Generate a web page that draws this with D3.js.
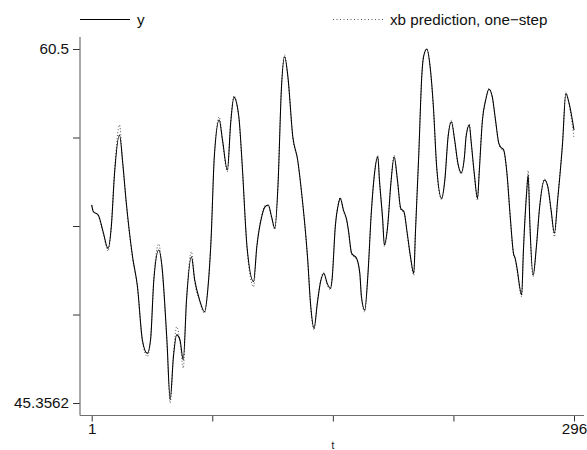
<!DOCTYPE html>
<html>
<head>
<meta charset="utf-8">
<script src="https://cdn.jsdelivr.net/npm/d3@7"></script>
<style>
  html, body { margin: 0; padding: 0; background: #fff; }
  svg { display: block; font-family: "Liberation Sans", Arial, Helvetica, sans-serif; }
</style>
</head>
<body>
<svg id="chart" width="587" height="450"></svg>
<script>
// ---- data ----
const tVals = [1,2,5,8,11,13,15,18,20,22,26,29,32,35,37,39,42,44,47,49,51,53,55,57,59,62,64,67,70,72,74,76,79,81,84,86,88,91,93,96,100,102,105,107,109,111,113,115,117,119,121,124,127,129,133,135,137,139,141,143,145,147,148,150,152,153,155,157,158,160,163,165,166,168,170,172,174,176,177,179,180,182,184,186,188,190,192,194,196,198,199,201,203,204,206,208,210,212,215,217,219,221,223,225,227,229,230,232,233,235,237,238,240,242,244,246,248,250,251,253,255,257,259,260,261,264,265,267,268,269,271,273,275,278,280,282,284,286,289,291,293,296];

const yVals = [53.83,53.54,53.40,52.68,51.97,52.90,55.20,56.82,55.62,54.04,51.61,50.33,48.05,47.48,48.05,50.62,51.90,51.19,48.05,45.50,47.34,48.27,48.05,47.20,49.76,51.61,50.62,49.76,49.26,50.19,52.33,55.89,57.46,56.61,55.32,57.32,58.43,57.60,55.61,52.04,50.55,52.04,53.33,53.75,53.83,53.33,52.83,54.75,58.75,60.17,59.32,56.75,55.75,54.61,51.61,49.48,48.55,49.62,50.55,50.90,50.48,50.26,50.62,52.90,53.90,54.11,53.61,53.18,52.76,51.76,51.55,50.90,49.90,49.33,50.90,53.47,55.18,55.89,54.90,53.18,52.12,52.90,54.75,55.89,54.90,53.69,53.54,52.62,51.61,50.90,52.62,55.89,59.46,60.17,60.50,59.74,58.03,55.47,54.11,54.90,56.75,57.39,56.61,55.61,55.21,55.89,56.75,57.25,56.61,55.18,54.11,55.18,57.46,58.32,58.78,58.46,57.46,56.47,56.32,56.18,55.18,53.33,51.76,51.55,51.19,49.98,51.76,54.33,55.11,53.04,50.83,52.04,53.75,54.90,54.61,53.61,52.62,54.04,56.47,58.60,58.18,57.03];

const predVals = [53.80,53.58,53.36,52.62,51.85,52.95,55.30,57.25,55.55,53.98,51.55,50.30,48.00,47.35,48.10,50.70,52.16,51.10,47.95,45.3562,47.45,48.62,47.98,46.85,49.80,51.83,50.55,49.70,49.20,50.25,52.40,55.95,57.60,56.55,55.25,57.38,58.50,57.55,55.55,51.98,50.33,52.10,53.38,53.80,53.80,53.28,52.78,54.82,58.80,60.25,59.28,56.70,55.70,54.55,51.55,49.40,48.48,49.68,50.60,50.95,50.42,50.20,50.68,52.95,53.95,54.15,53.55,53.12,52.70,51.70,51.50,50.85,49.85,49.25,50.95,53.52,55.22,55.95,54.85,53.12,52.05,52.95,54.80,55.95,54.85,53.62,53.50,52.55,51.55,50.82,52.68,55.95,59.50,60.22,60.50,59.70,57.98,55.40,54.05,54.95,56.80,57.45,56.55,55.55,55.15,55.95,56.80,57.30,56.55,55.12,54.02,55.25,57.50,58.36,58.82,58.42,57.40,56.42,56.25,56.12,55.12,53.27,51.70,51.48,51.10,49.90,51.82,54.40,55.30,52.98,50.76,52.10,53.80,54.95,54.55,53.55,52.47,54.10,56.52,58.66,58.12,56.69];

const xTickVals = [1, 74.75, 148.5, 222.25, 296];
const xTickLabels = ["1", "", "", "", "296"];
const yTickVals = [45.3562, 49.14215, 52.9281, 56.71405, 60.5];
const yTickLabels = ["45.3562", "", "", "", "60.5"];
const legendLabels = ["y", "xb prediction, one\u2212step"];
const xTitle = "t";

// ---- drawing ----
const svg = d3.select("#chart");
const fs = 15.2;

const x = d3.scaleLinear().domain([1, 296]).range([91.7, 574]);
const y = d3.scaleLinear().domain([45.3562, 60.5]).range([403, 49]);

const axisColor = "#6e6e6e";
const axisX0 = 80, axisY0 = 415.5;

// y axis
const yAxis = d3.axisLeft(y)
  .tickValues(yTickVals)
  .tickSize(7)
  .tickPadding(4)
  .tickFormat((d, i) => yTickLabels[i]);
const gy = svg.append("g").attr("transform", `translate(${axisX0},0)`).call(yAxis);
gy.select(".domain").remove();
gy.selectAll(".tick line").attr("stroke", "#333").attr("stroke-width", 1);
gy.selectAll(".tick text").attr("fill", "#111").style("font-size", fs + "px")
  .style("font-family", "'Liberation Sans', Arial, sans-serif");

// x axis
const xAxis = d3.axisBottom(x)
  .tickValues(xTickVals)
  .tickSize(6)
  .tickPadding(2)
  .tickFormat((d, i) => xTickLabels[i]);
const gx = svg.append("g").attr("transform", `translate(0,${axisY0})`).call(xAxis);
gx.select(".domain").remove();
gx.selectAll(".tick line").attr("stroke", "#333").attr("stroke-width", 1);
gx.selectAll(".tick text").attr("fill", "#111").style("font-size", fs + "px")
  .style("font-family", "'Liberation Sans', Arial, sans-serif");

// spines
svg.append("line").attr("x1", axisX0).attr("x2", axisX0).attr("y1", 37).attr("y2", axisY0)
  .attr("stroke", axisColor).attr("stroke-width", 1.2);
svg.append("line").attr("x1", axisX0).attr("x2", 584).attr("y1", axisY0).attr("y2", axisY0)
  .attr("stroke", axisColor).attr("stroke-width", 1.2);

// x title
svg.append("text").attr("x", x(148.5)).attr("y", 449).attr("text-anchor", "middle")
  .attr("fill", "#111").style("font-size", "10px").text(xTitle);

// lines
const predData = tVals.map((t, i) => ({t: t, v: predVals[i]}));
const yData = tVals.map((t, i) => ({t: t, v: yVals[i]}));
const line = d3.line().x(d => x(d.t)).y(d => y(d.v)).curve(d3.curveMonotoneX);

svg.append("path").datum(predData).attr("d", line)
  .attr("fill", "none").attr("stroke", "#444").attr("stroke-width", 0.9)
  .attr("stroke-dasharray", "1,2");
svg.append("path").datum(yData).attr("d", line)
  .attr("fill", "none").attr("stroke", "#000").attr("stroke-width", 1.05);

// legend
const legY = 19.5;
svg.append("line").attr("x1", 80).attr("x2", 130).attr("y1", legY).attr("y2", legY)
  .attr("stroke", "#000").attr("stroke-width", 1.05);
svg.append("text").attr("x", 137).attr("y", legY + 5).attr("fill", "#111").style("font-size", fs + "px").text(legendLabels[0]);
svg.append("line").attr("x1", 333).attr("x2", 385).attr("y1", legY).attr("y2", legY)
  .attr("stroke", "#444").attr("stroke-width", 0.9).attr("stroke-dasharray", "1,2.5");
svg.append("text").attr("x", 390).attr("y", legY + 5).attr("fill", "#111").style("font-size", fs + "px").text(legendLabels[1]);
</script>
</body>
</html>
